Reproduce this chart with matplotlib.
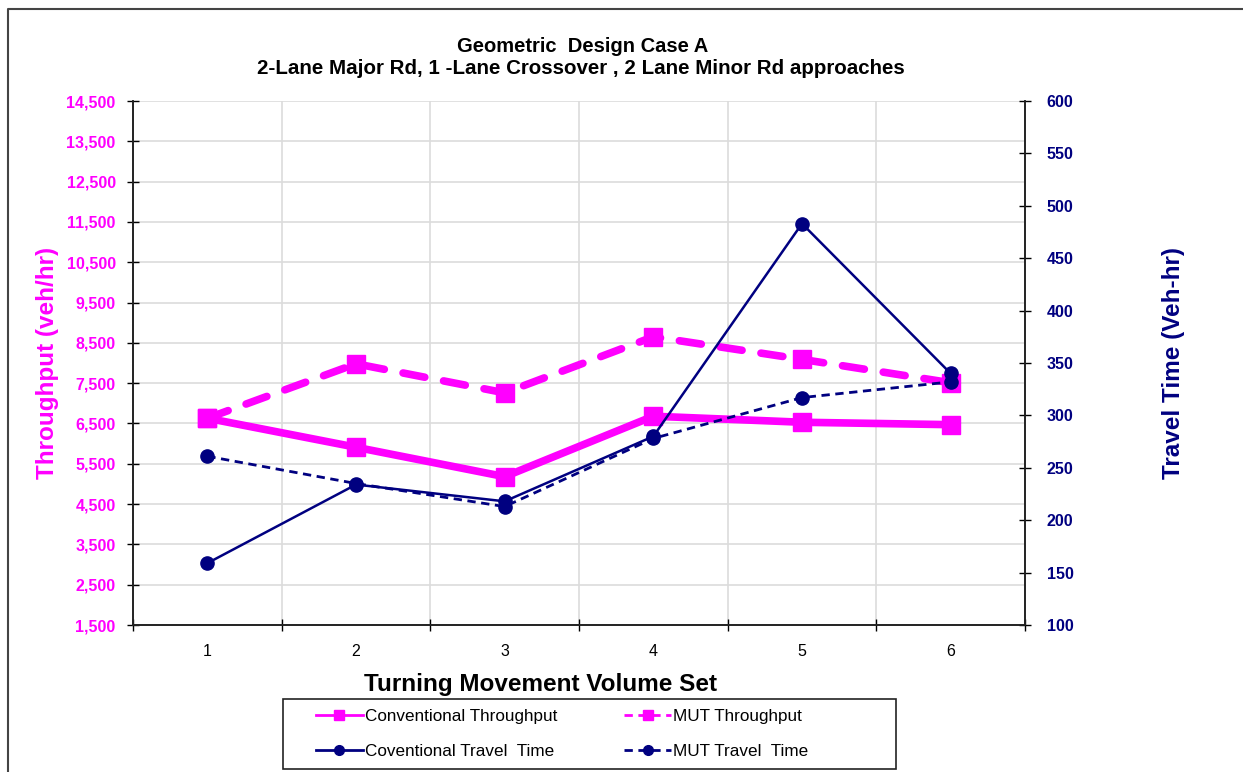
import matplotlib
matplotlib.use('Agg')
import matplotlib.pyplot as plt
from matplotlib.lines import Line2D
from matplotlib.patches import Rectangle
from matplotlib.ticker import FuncFormatter, FixedLocator

plt.rcParams['font.family'] = ['Liberation Sans', 'DejaVu Sans']

# ── data ──
volume_set = [1, 2, 3, 4, 5, 6]
conv_throughput = [6630, 5910, 5180, 6680, 6530, 6470]
mut_throughput = [6630, 7980, 7260, 8650, 8090, 7510]
conv_travel_time = [159, 234, 218, 280, 483, 340]
mut_travel_time = [261, 235, 213, 278, 317, 332]

MAGENTA = '#FF00FF'
NAVY = '#000080'
W, H = 1243, 772

fig = plt.figure(figsize=(W / 100, H / 100), dpi=100)
ax1 = fig.add_axes([133 / W, 1 - 625 / H, 892 / W, 524 / H])
ax2 = ax1.twinx()

# throughput on left axis
ax1.plot(volume_set, conv_throughput, color=MAGENTA, lw=5.5, marker='s',
         markersize=13, solid_capstyle='butt', zorder=3)
ax1.plot(volume_set, mut_throughput, color=MAGENTA, lw=5.5, marker='s',
         markersize=13, dashes=(2.9, 2.5), dash_capstyle='round', zorder=3)

# travel time on right axis
ax2.plot(volume_set, conv_travel_time, color=NAVY, lw=1.8, marker='o',
         markersize=9.5)
ax2.plot(volume_set, mut_travel_time, color=NAVY, lw=2.0, marker='o',
         markersize=9.5, dashes=(3.0, 2.0))

ax1.set_xlim(0.5, 6.5)
ax1.set_ylim(1500, 14500)
ax2.set_ylim(100, 600)

ax1.set_yticks(range(1500, 14501, 1000))
ax1.yaxis.set_major_formatter(FuncFormatter(lambda v, p: f'{int(v):,}'))
ax2.set_yticks(range(100, 601, 50))

# category boundaries carry ticks and grid, labels sit at centres
ax1.xaxis.set_major_locator(FixedLocator([0.5, 1.5, 2.5, 3.5, 4.5, 5.5, 6.5]))
ax1.xaxis.set_minor_locator(FixedLocator(volume_set))
ax1.set_xticklabels([])
ax1.set_xticklabels([str(v) for v in volume_set], minor=True)
ax1.tick_params(axis='x', which='major', direction='inout', length=8,
                width=1, color='black')
ax1.tick_params(axis='x', which='minor', length=0, pad=14, labelsize=11.5)

ax1.tick_params(axis='y', direction='inout', length=9, width=1,
                labelcolor=MAGENTA, labelsize=11.5, pad=8)
ax2.tick_params(axis='y', direction='inout', length=9, width=1,
                labelcolor=NAVY, labelsize=11.5, pad=11)
for lbl in ax1.get_yticklabels() + ax2.get_yticklabels():
    lbl.set_fontweight('bold')

ax1.grid(True, axis='both', which='major', color='#dcdcdc', lw=1.2)
ax1.set_axisbelow(True)

for ax in (ax1, ax2):
    ax.spines['top'].set_visible(False)
    for s in ('left', 'right', 'bottom'):
        ax.spines[s].set_color('#222222')
        ax.spines[s].set_linewidth(1.2)

ax1.set_ylabel('Throughput (veh/hr)', color=MAGENTA, fontsize=17.5,
               fontweight='bold', labelpad=5)
ax2.set_ylabel('Travel Time (Veh-hr)', color=NAVY, fontsize=17.5,
               fontweight='bold', labelpad=64)

fig.text(583 / W, 1 - 46 / H, 'Geometric  Design Case A',
         ha='center', va='center', fontsize=14.5, fontweight='bold')
fig.text(581 / W, 1 - 69 / H,
         '2-Lane Major Rd, 1 -Lane Crossover , 2 Lane Minor Rd approaches',
         ha='center', va='center', fontsize=14.8, fontweight='bold')
fig.text(540 / W, 1 - 685 / H, 'Turning Movement Volume Set',
         ha='center', va='center', fontsize=17.5, fontweight='bold')

# legend with thin proxy lines, boxed separately
handles = [
    Line2D([], [], color=MAGENTA, lw=2, marker='s', markersize=7),
    Line2D([], [], color=NAVY, lw=2, marker='o', markersize=7),
    Line2D([], [], color=MAGENTA, lw=2, marker='s', markersize=7,
           dashes=(3, 2)),
    Line2D([], [], color=NAVY, lw=2, marker='o', markersize=7,
           dashes=(3, 2)),
]
labels = ['Conventional Throughput', 'Coventional Travel  Time',
          'MUT Throughput', 'MUT Travel  Time']
fig.legend(handles, labels, ncol=2, loc='center left',
           bbox_to_anchor=(316 / W, 1 - 734 / H),
           fontsize=12.3, frameon=False, handlelength=2.75,
           handletextpad=0.12, columnspacing=3.9, labelspacing=1.15,
           borderpad=0, borderaxespad=0)
fig.add_artist(Rectangle((283 / W, 1 - 769 / H), 613 / W, 70 / H,
                         transform=fig.transFigure, fill=False,
                         edgecolor='#222222', lw=1.2))

# outer chart border (left and top edges)
fig.add_artist(Line2D([8 / W, 8 / W, 1.0], [0, 1 - 9 / H, 1 - 9 / H],
                      transform=fig.transFigure, color='#444444', lw=1.5))

fig.savefig('out.png', dpi=100)
plt.close(fig)
